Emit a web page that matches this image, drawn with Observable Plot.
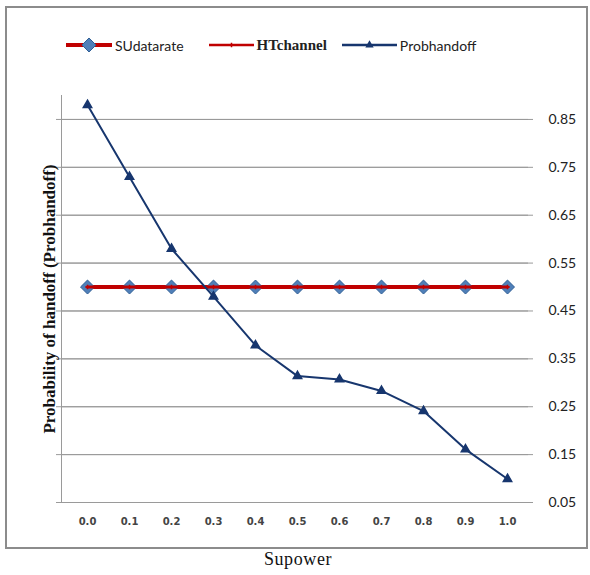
<!DOCTYPE html>
<html>
<head>
<meta charset="utf-8">
<script src="https://cdn.jsdelivr.net/npm/d3@7"></script>
<script src="https://cdn.jsdelivr.net/npm/@observablehq/plot@0.6"></script>
<style>
  body { margin: 0; background: #fff; }
  #wrap { position: relative; width: 590px; height: 575px; overflow: hidden; }
  #frame { position: absolute; left: 5px; top: 6px; width: 579px; height: 539px; border: 2px solid #8c8c8c; box-sizing: content-box; pointer-events: none; }
  #legend { position: absolute; top: 35px; left: 66px; height: 20px; display: flex; align-items: center; }
  .item { display: flex; align-items: center; }
  .lab-sans { font-family: Lato, sans-serif; font-size: 14px; color: #222; }
  .lab-serif { font-family: "Liberation Serif", serif; font-weight: bold; font-size: 15px; color: #222; }
  #xtitle { position: absolute; top: 549px; left: 0; width: 596px; text-align: center; font-family: "Liberation Serif", serif; font-size: 18px; letter-spacing: 0.6px; color: #111; }
  svg [aria-label^="x-axis"] text { font-family: "DejaVu Sans", sans-serif; font-weight: bold; font-size: 10px; fill: #444; }
  svg [aria-label^="y-axis"] text { font-family: Lato, sans-serif; font-size: 14px; fill: #222; }
</style>
</head>
<body>
<div id="wrap">
  <div id="chart"></div>
  <div id="frame"></div>
  <div id="legend"></div>
  <div id="xtitle">Supower</div>
</div>
<script>
const xLabels = ["0.0", "0.1", "0.2", "0.3", "0.4", "0.5", "0.6", "0.7", "0.8", "0.9", "1.0"];
const suDataRate = [0.5, 0.5, 0.5, 0.5, 0.5, 0.5, 0.5, 0.5, 0.5, 0.5, 0.5];
const htChannel = [0.5, 0.5, 0.5, 0.5, 0.5, 0.5, 0.5, 0.5, 0.5, 0.5, 0.5];
const probHandoff = [0.88, 0.73, 0.58, 0.48, 0.378, 0.314, 0.307, 0.283, 0.241, 0.161, 0.099];
const yTicks = [0.05, 0.15, 0.25, 0.35, 0.45, 0.55, 0.65, 0.75, 0.85];
const seriesNames = ["SUdatarate", "HTchannel", "Probhandoff"];
const yTitle = "Probability of handoff (Probhandoff)";

const red = "#c00000";
const navy = "#17366e";
const diamondFill = "#4f7fb8";

const su = xLabels.map((x, i) => ({x, y: suDataRate[i]}));
const ht = xLabels.map((x, i) => ({x, y: htChannel[i]}));
const ph = xLabels.map((x, i) => ({x, y: probHandoff[i]}));

const plot = Plot.plot({
  width: 590,
  height: 575,
  marginLeft: 61,
  marginRight: 57,
  marginTop: 95,
  marginBottom: 73,
  style: {background: "transparent", overflow: "visible"},
  x: {type: "point", domain: xLabels, padding: 0.5, tickSize: 0, tickPadding: 15, label: null},
  y: {domain: [0.05, 0.9], ticks: yTicks, axis: "right", tickSize: 0, tickPadding: 15, tickFormat: d3.format(".2f"), label: null},
  marks: [
    Plot.ruleY(yTicks, {stroke: "#9a9a9a", strokeWidth: 1}),
    Plot.ruleY(yTicks, {stroke: "#9a9a9a", strokeWidth: 1, dx: -5}),
    Plot.frame({anchor: "left", stroke: "#9a9a9a", strokeWidth: 1}),
    Plot.text([yTitle], {frameAnchor: "left", textAnchor: "middle", rotate: -90, dx: -12, fontFamily: "Liberation Serif, serif", fontWeight: "bold", fontSize: 17, fill: "#111"}),
    Plot.line(su, {x: "x", y: "y", stroke: red, strokeWidth: 4}),
    Plot.dot(su, {x: "x", y: "y", symbol: "diamond2", r: 6.3, fill: diamondFill, stroke: "#2f5f96", strokeWidth: 1}),
    Plot.line(ht, {x: "x", y: "y", stroke: red, strokeWidth: 3}),
    Plot.dot(ht, {x: "x", y: "y", symbol: "plus", r: 1.6, stroke: red, strokeWidth: 1.5}),
    Plot.line(ph, {x: "x", y: "y", stroke: navy, strokeWidth: 2}),
    Plot.dot(ph, {x: "x", y: "y", symbol: "triangle2", r: 4, fill: navy, stroke: navy})
  ]
});
document.getElementById("chart").appendChild(plot);

// legend
const legend = d3.select("#legend");
function item(name, lineLen, lineW, lineColor, marker, labClass, gap) {
  const it = legend.append("div").attr("class", "item").style("margin-right", gap + "px");
  const s = it.append("svg").attr("width", lineLen + 3).attr("height", 20);
  s.append("line").attr("x1", 0).attr("x2", lineLen).attr("y1", 10).attr("y2", 10).attr("stroke", lineColor).attr("stroke-width", lineW);
  const cx = lineLen / 2;
  if (marker === "diamond") {
    s.append("path").attr("d", d3.symbol(d3.symbolDiamond2, 125)()).attr("transform", `translate(${cx},10)`).attr("fill", diamondFill).attr("stroke", "#2f5f96");
  } else if (marker === "plus") {
    s.append("path").attr("d", d3.symbol(d3.symbolPlus, 8)()).attr("transform", `translate(${cx},10)`).attr("stroke", red).attr("stroke-width", 1.5);
  } else {
    s.append("path").attr("d", d3.symbol(d3.symbolTriangle2, 50)()).attr("transform", `translate(${cx},10)`).attr("fill", navy);
  }
  it.append("span").attr("class", labClass).text(name);
}
item(seriesNames[0], 46, 4, red, "diamond", "lab-sans", 25);
item(seriesNames[1], 45, 2.5, red, "plus", "lab-serif", 15);
item(seriesNames[2], 55, 2.5, navy, "triangle", "lab-sans", 0);
</script>
</body>
</html>
